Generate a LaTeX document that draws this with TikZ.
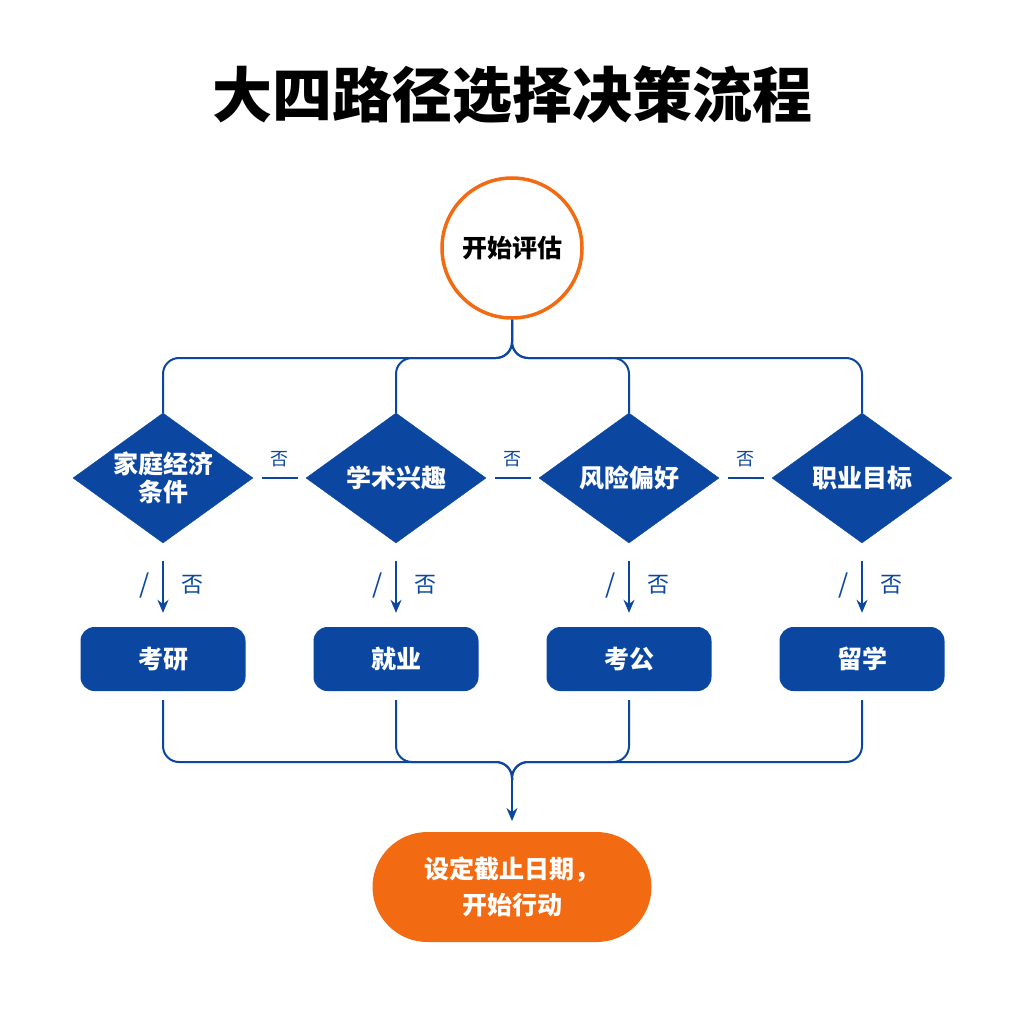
\documentclass[tikz,border=0pt]{standalone}
\usepackage{fontspec}
\setmainfont{Noto Sans CJK SC}
\usetikzlibrary{shapes.geometric,arrows.meta}
\definecolor{bl}{HTML}{0B47A1}
\definecolor{og}{HTML}{F26B13}
\begin{document}
\begin{tikzpicture}[x=1pt,y=-1pt,
  dia/.style={diamond,fill=bl,draw=bl,minimum width=180pt,minimum height=130pt,inner sep=0pt,text=white,font=\bfseries\fontsize{25}{28}\selectfont,align=center},
  box/.style={rectangle,rounded corners=14pt,fill=bl,minimum width=165pt,minimum height=64pt,text=white,font=\bfseries\fontsize{25}{28}\selectfont},
  ln/.style={draw=bl,line width=2pt},
  arr/.style={ln,-{Stealth[length=13pt,width=11pt]}},
  lbl/.style={text=bl,font=\fontsize{18}{20}\selectfont,inner sep=1pt}]
\useasboundingbox (0,0) rectangle (1024,1024);
\fill[white] (0,0) rectangle (1024,1024);
\node[font=\bfseries\fontsize{60}{68}\selectfont] (t) at (512,95) {大四路径选择决策流程};
\node[circle,draw=og,line width=3.5pt,fill=white,minimum size=140pt,font=\bfseries\fontsize{25}{28}\selectfont] (c) at (512,248) {开始评估};
\node[dia,inner sep=-14pt] (d1) at (163,478) {家庭经济\\条件};
\foreach \n/\x/\txt in {2/396/学术兴趣,3/629/风险偏好,4/862/职业目标}{
  \node[dia] (d\n) at (\x,478) {\txt};
}
\foreach \n/\x/\txt in {1/163/考研,2/396/就业,3/629/考公,4/862/留学}{
  \node[box] (b\n) at (\x,659) {\txt};
}
\node[rectangle,rounded corners=55pt,fill=og,minimum width=279pt,minimum height=110pt,text=white,align=center,font=\bfseries\fontsize{25}{36}\selectfont] (e) at (512,887) {设定截止日期，\\开始行动};
\foreach \n in {1,2,3,4}{
  \draw[ln,rounded corners=16pt] (c.south) -- (512,358) -| (d\n.north);
  \draw[arr,shorten <=18pt,shorten >=14pt] (d\n.south) -- (b\n.north);
  \draw[ln,rounded corners=16pt] ([yshift=-9pt]b\n.south) |- (512,762) -- (512,780);
  \path (d\n.south) -- (b\n.north) coordinate[pos=0.5] (m\n);
  \node[lbl,font=\fontsize{26}{28}\selectfont] (s\n) at ([xshift=-18pt]m\n) {/};
  \node[lbl,font=\fontsize{22}{24}\selectfont] (f\n) at ([xshift=29pt]m\n) {否};
}
\draw[arr] (512,775) -- (512,821);
\foreach \a/\b in {1/2,2/3,3/4}{
  \draw[ln,shorten <=9pt,shorten >=8pt] (d\a.east) -- (d\b.west) coordinate[pos=0.5] (h\a);
  \node[lbl] (g\a) at ([yshift=19pt]h\a) {否};
}
\end{tikzpicture}
\end{document}
